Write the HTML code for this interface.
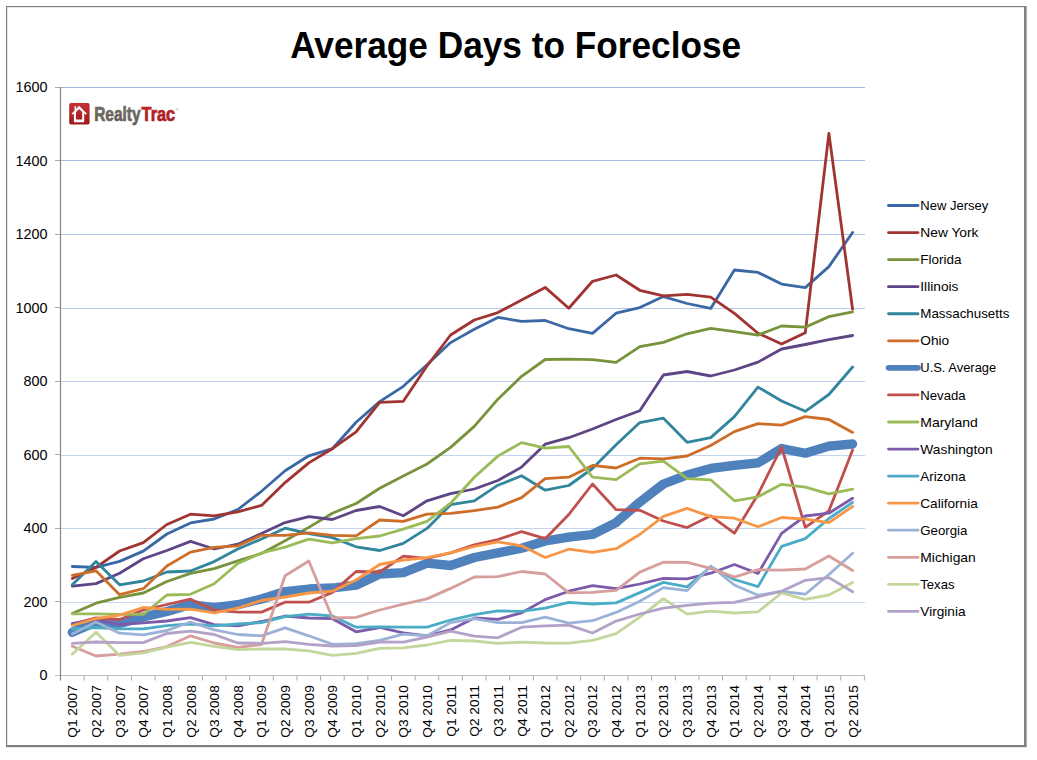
<!DOCTYPE html>
<html lang="en"><head><meta charset="utf-8"><title>Average Days to Foreclose</title>
<style>
html,body{margin:0;padding:0;background:#fff;width:1037px;height:760px;overflow:hidden}
svg{display:block}
text{font-family:"Liberation Sans",Arial,sans-serif}
</style></head><body>
<svg width="1037" height="760" viewBox="0 0 1037 760">
<rect x="0" y="0" width="1037" height="760" fill="#fff"/>
<g fill="#808080"><rect x="6" y="6" width="1020" height="1.2"/><rect x="6" y="6" width="1.2" height="741"/><rect x="1024" y="6" width="2.6" height="741"/><rect x="6" y="745" width="1020.6" height="2.2"/></g>
<text x="290.2" y="57.6" font-size="37.7" font-weight="bold" fill="#000" textLength="451" lengthAdjust="spacingAndGlyphs">Average Days to Foreclose</text>
<g><rect x="60.5" y="87" width="804.5" height="1" fill="#A0B8E0"/><rect x="60.5" y="160" width="804.5" height="1" fill="#A6BDE3"/><rect x="60.5" y="234" width="804.5" height="1" fill="#B0C5E8"/><rect x="60.5" y="308" width="804.5" height="1" fill="#B8CAEA"/><rect x="60.5" y="381" width="804.5" height="1" fill="#BFCFEC"/><rect x="60.5" y="455" width="804.5" height="1" fill="#C4D3EE"/><rect x="60.5" y="528" width="804.5" height="1" fill="#C4D3EE"/><rect x="60.5" y="602" width="804.5" height="1" fill="#C8D6EF"/></g>
<g stroke="#A9A9A9" stroke-width="1"><line x1="55" y1="675.50" x2="60.5" y2="675.50"/><line x1="55" y1="601.50" x2="60.5" y2="601.50"/><line x1="55" y1="528.50" x2="60.5" y2="528.50"/><line x1="55" y1="454.50" x2="60.5" y2="454.50"/><line x1="55" y1="381.50" x2="60.5" y2="381.50"/><line x1="55" y1="307.50" x2="60.5" y2="307.50"/><line x1="55" y1="234.50" x2="60.5" y2="234.50"/><line x1="55" y1="160.50" x2="60.5" y2="160.50"/><line x1="55" y1="87.50" x2="60.5" y2="87.50"/><line x1="60.50" y1="675.5" x2="60.50" y2="680.5"/><line x1="84.14" y1="675.5" x2="84.14" y2="680.5"/><line x1="107.79" y1="675.5" x2="107.79" y2="680.5"/><line x1="131.43" y1="675.5" x2="131.43" y2="680.5"/><line x1="155.08" y1="675.5" x2="155.08" y2="680.5"/><line x1="178.72" y1="675.5" x2="178.72" y2="680.5"/><line x1="202.36" y1="675.5" x2="202.36" y2="680.5"/><line x1="226.01" y1="675.5" x2="226.01" y2="680.5"/><line x1="249.65" y1="675.5" x2="249.65" y2="680.5"/><line x1="273.30" y1="675.5" x2="273.30" y2="680.5"/><line x1="296.94" y1="675.5" x2="296.94" y2="680.5"/><line x1="320.59" y1="675.5" x2="320.59" y2="680.5"/><line x1="344.23" y1="675.5" x2="344.23" y2="680.5"/><line x1="367.87" y1="675.5" x2="367.87" y2="680.5"/><line x1="391.52" y1="675.5" x2="391.52" y2="680.5"/><line x1="415.16" y1="675.5" x2="415.16" y2="680.5"/><line x1="438.81" y1="675.5" x2="438.81" y2="680.5"/><line x1="462.45" y1="675.5" x2="462.45" y2="680.5"/><line x1="486.09" y1="675.5" x2="486.09" y2="680.5"/><line x1="509.74" y1="675.5" x2="509.74" y2="680.5"/><line x1="533.38" y1="675.5" x2="533.38" y2="680.5"/><line x1="557.03" y1="675.5" x2="557.03" y2="680.5"/><line x1="580.67" y1="675.5" x2="580.67" y2="680.5"/><line x1="604.31" y1="675.5" x2="604.31" y2="680.5"/><line x1="627.96" y1="675.5" x2="627.96" y2="680.5"/><line x1="651.60" y1="675.5" x2="651.60" y2="680.5"/><line x1="675.25" y1="675.5" x2="675.25" y2="680.5"/><line x1="698.89" y1="675.5" x2="698.89" y2="680.5"/><line x1="722.54" y1="675.5" x2="722.54" y2="680.5"/><line x1="746.18" y1="675.5" x2="746.18" y2="680.5"/><line x1="769.82" y1="675.5" x2="769.82" y2="680.5"/><line x1="793.47" y1="675.5" x2="793.47" y2="680.5"/><line x1="817.11" y1="675.5" x2="817.11" y2="680.5"/><line x1="840.76" y1="675.5" x2="840.76" y2="680.5"/><line x1="864.40" y1="675.5" x2="864.40" y2="680.5"/></g>
<rect x="55" y="675" width="809.9" height="1" fill="#BEBEBE"/><line x1="60.5" y1="87.3" x2="60.5" y2="680.5" stroke="#868686" stroke-width="1.2"/>
<g font-size="14.4" fill="#000" text-anchor="end"><text x="47.4" y="680.40">0</text><text x="47.4" y="606.88">200</text><text x="47.4" y="533.35">400</text><text x="47.4" y="459.82">600</text><text x="47.4" y="386.30">800</text><text x="47.4" y="312.77">1000</text><text x="47.4" y="239.25">1200</text><text x="47.4" y="165.72">1400</text><text x="47.4" y="92.20">1600</text></g>
<g font-size="13.7" fill="#000" text-anchor="end"><text transform="translate(77.32,685.2) rotate(-90)">Q1 2007</text><text transform="translate(100.97,685.2) rotate(-90)">Q2 2007</text><text transform="translate(124.61,685.2) rotate(-90)">Q3 2007</text><text transform="translate(148.25,685.2) rotate(-90)">Q4 2007</text><text transform="translate(171.90,685.2) rotate(-90)">Q1 2008</text><text transform="translate(195.54,685.2) rotate(-90)">Q2 2008</text><text transform="translate(219.19,685.2) rotate(-90)">Q3 2008</text><text transform="translate(242.83,685.2) rotate(-90)">Q4 2008</text><text transform="translate(266.48,685.2) rotate(-90)">Q1 2009</text><text transform="translate(290.12,685.2) rotate(-90)">Q2 2009</text><text transform="translate(313.76,685.2) rotate(-90)">Q3 2009</text><text transform="translate(337.41,685.2) rotate(-90)">Q4 2009</text><text transform="translate(361.05,685.2) rotate(-90)">Q1 2010</text><text transform="translate(384.70,685.2) rotate(-90)">Q2 2010</text><text transform="translate(408.34,685.2) rotate(-90)">Q3 2010</text><text transform="translate(431.98,685.2) rotate(-90)">Q4 2010</text><text transform="translate(455.63,685.2) rotate(-90)">Q1 2011</text><text transform="translate(479.27,685.2) rotate(-90)">Q2 2011</text><text transform="translate(502.92,685.2) rotate(-90)">Q3 2011</text><text transform="translate(526.56,685.2) rotate(-90)">Q4 2011</text><text transform="translate(550.20,685.2) rotate(-90)">Q1 2012</text><text transform="translate(573.85,685.2) rotate(-90)">Q2 2012</text><text transform="translate(597.49,685.2) rotate(-90)">Q3 2012</text><text transform="translate(621.14,685.2) rotate(-90)">Q4 2012</text><text transform="translate(644.78,685.2) rotate(-90)">Q1 2013</text><text transform="translate(668.42,685.2) rotate(-90)">Q2 2013</text><text transform="translate(692.07,685.2) rotate(-90)">Q3 2013</text><text transform="translate(715.71,685.2) rotate(-90)">Q4 2013</text><text transform="translate(739.36,685.2) rotate(-90)">Q1 2014</text><text transform="translate(763.00,685.2) rotate(-90)">Q2 2014</text><text transform="translate(786.65,685.2) rotate(-90)">Q3 2014</text><text transform="translate(810.29,685.2) rotate(-90)">Q4 2014</text><text transform="translate(833.93,685.2) rotate(-90)">Q1 2015</text><text transform="translate(857.58,685.2) rotate(-90)">Q2 2015</text></g>
<g fill="none" stroke-linejoin="round" stroke-linecap="round">
<polyline stroke="#3A68A5" stroke-width="2.8" points="72.3,566.5 96.0,567.4 119.6,561.4 143.3,551.1 166.9,534.0 190.5,522.9 214.2,519.0 237.8,509.5 261.5,491.3 285.1,470.8 308.8,455.8 332.4,448.7 356.1,422.3 379.7,401.6 403.3,386.3 427.0,364.7 450.6,342.6 474.3,329.2 497.9,317.4 521.6,321.3 545.2,320.5 568.8,328.7 592.5,333.4 616.1,313.2 639.8,307.6 663.4,296.6 687.1,303.5 710.7,308.4 734.4,270.0 758.0,272.4 781.6,284.1 805.3,287.6 828.9,266.6 852.6,232.5"/>
<polyline stroke="#A03431" stroke-width="2.8" points="72.3,578.5 96.0,567.4 119.6,551.0 143.3,542.6 166.9,524.5 190.5,514.2 214.2,515.8 237.8,511.8 261.5,505.4 285.1,482.6 308.8,462.9 332.4,448.7 356.1,431.8 379.7,402.4 403.3,401.3 427.0,366.0 450.6,335.0 474.3,320.0 497.9,312.6 521.6,300.0 545.2,287.4 568.8,308.2 592.5,281.3 616.1,275.0 639.8,290.3 663.4,295.8 687.1,294.4 710.7,297.2 734.4,313.4 758.0,333.2 781.6,344.1 805.3,332.8 828.9,133.4 852.6,309.2"/>
<polyline stroke="#77933C" stroke-width="2.8" points="72.3,613.5 96.0,603.2 119.6,597.3 143.3,593.0 166.9,581.5 190.5,573.4 214.2,568.7 237.8,560.8 261.5,553.5 285.1,540.8 308.8,527.4 332.4,513.2 356.1,503.5 379.7,488.3 403.3,476.0 427.0,464.0 450.6,447.4 474.3,426.4 497.9,399.2 521.6,376.3 545.2,359.5 568.8,359.2 592.5,359.7 616.1,362.4 639.8,346.6 663.4,342.4 687.1,333.8 710.7,328.4 734.4,331.6 758.0,335.1 781.6,326.0 805.3,327.2 828.9,316.6 852.6,311.9"/>
<polyline stroke="#5E4585" stroke-width="2.8" points="72.3,586.2 96.0,583.6 119.6,573.3 143.3,558.8 166.9,550.5 190.5,541.4 214.2,549.0 237.8,544.2 261.5,533.5 285.1,522.6 308.8,516.6 332.4,519.5 356.1,510.5 379.7,506.5 403.3,515.8 427.0,500.8 450.6,493.7 474.3,489.0 497.9,480.5 521.6,467.1 545.2,444.2 568.8,437.7 592.5,429.0 616.1,419.5 639.8,410.8 663.4,375.0 687.1,371.5 710.7,376.0 734.4,370.0 758.0,362.1 781.6,349.0 805.3,344.5 828.9,339.7 852.6,335.5"/>
<polyline stroke="#31859C" stroke-width="2.8" points="72.3,584.8 96.0,561.4 119.6,584.8 143.3,581.0 166.9,572.0 190.5,571.0 214.2,561.6 237.8,549.0 261.5,539.0 285.1,528.2 308.8,533.7 332.4,537.6 356.1,546.8 379.7,550.5 403.3,543.4 427.0,528.4 450.6,504.7 474.3,500.8 497.9,485.2 521.6,475.8 545.2,490.2 568.8,485.5 592.5,468.5 616.1,444.7 639.8,422.6 663.4,418.2 687.1,442.3 710.7,437.6 734.4,416.6 758.0,387.1 781.6,401.0 805.3,411.3 828.9,394.5 852.6,367.0"/>
<polyline stroke="#CD6D28" stroke-width="2.8" points="72.3,575.4 96.0,570.8 119.6,594.7 143.3,588.7 166.9,566.0 190.5,552.1 214.2,547.4 237.8,545.8 261.5,535.3 285.1,535.3 308.8,532.9 332.4,535.3 356.1,535.8 379.7,520.0 403.3,521.3 427.0,514.2 450.6,513.4 474.3,510.7 497.9,507.1 521.6,497.6 545.2,478.6 568.8,477.2 592.5,465.4 616.1,468.0 639.8,458.2 663.4,458.8 687.1,456.0 710.7,445.5 734.4,431.6 758.0,423.7 781.6,425.1 805.3,416.6 828.9,419.5 852.6,432.4"/>
<polyline stroke="#4F81BD" stroke-width="9.3" points="72.3,632.3 96.0,622.0 119.6,623.5 143.3,617.0 166.9,611.5 190.5,604.5 214.2,607.5 237.8,604.7 261.5,599.0 285.1,591.5 308.8,589.0 332.4,588.0 356.1,585.2 379.7,574.0 403.3,572.6 427.0,563.2 450.6,565.5 474.3,557.5 497.9,552.9 521.6,548.2 545.2,541.0 568.8,537.2 592.5,534.5 616.1,522.6 639.8,502.1 663.4,484.0 687.1,475.0 710.7,468.4 734.4,465.3 758.0,462.9 781.6,448.5 805.3,453.2 828.9,446.1 852.6,444.0"/>
<polyline stroke="#C0504D" stroke-width="2.8" points="72.3,624.0 96.0,617.8 119.6,619.5 143.3,610.0 166.9,604.5 190.5,599.2 214.2,610.1 237.8,612.1 261.5,612.1 285.1,602.2 308.8,602.2 332.4,592.4 356.1,571.5 379.7,572.0 403.3,556.1 427.0,558.4 450.6,552.9 474.3,544.8 497.9,539.5 521.6,531.6 545.2,538.7 568.8,514.5 592.5,484.0 616.1,509.7 639.8,510.3 663.4,521.0 687.1,527.6 710.7,515.8 734.4,533.2 758.0,494.5 781.6,447.0 805.3,527.4 828.9,510.8 852.6,450.0"/>
<polyline stroke="#9BBB59" stroke-width="2.8" points="72.3,613.8 96.0,613.8 119.6,614.4 143.3,614.4 166.9,595.0 190.5,594.3 214.2,583.8 237.8,563.5 261.5,553.0 285.1,547.1 308.8,539.2 332.4,542.8 356.1,538.7 379.7,536.0 403.3,529.2 427.0,521.3 450.6,503.2 474.3,477.3 497.9,456.1 521.6,442.6 545.2,448.2 568.8,446.5 592.5,477.2 616.1,479.7 639.8,463.8 663.4,461.2 687.1,478.6 710.7,479.8 734.4,500.8 758.0,496.8 781.6,484.3 805.3,487.1 828.9,493.9 852.6,489.2"/>
<polyline stroke="#7C5BAA" stroke-width="2.8" points="72.3,623.4 96.0,620.0 119.6,624.6 143.3,622.9 166.9,621.0 190.5,617.6 214.2,624.6 237.8,625.9 261.5,621.5 285.1,616.0 308.8,618.0 332.4,618.7 356.1,631.8 379.7,627.5 403.3,632.9 427.0,635.8 450.6,629.9 474.3,618.0 497.9,619.3 521.6,612.8 545.2,599.6 568.8,591.2 592.5,585.7 616.1,588.7 639.8,584.0 663.4,578.4 687.1,578.9 710.7,573.2 734.4,564.5 758.0,573.5 781.6,533.4 805.3,516.0 828.9,513.2 852.6,498.2"/>
<polyline stroke="#4BACC6" stroke-width="2.8" points="72.3,629.0 96.0,627.5 119.6,628.9 143.3,628.9 166.9,625.7 190.5,624.0 214.2,625.9 237.8,624.0 261.5,622.6 285.1,616.7 308.8,614.1 332.4,616.0 356.1,627.2 379.7,626.8 403.3,627.2 427.0,627.2 450.6,620.0 474.3,614.7 497.9,610.8 521.6,611.4 545.2,608.2 568.8,602.3 592.5,604.0 616.1,602.9 639.8,592.6 663.4,582.4 687.1,586.8 710.7,566.8 734.4,579.5 758.0,586.6 781.6,546.4 805.3,538.6 828.9,518.5 852.6,502.4"/>
<polyline stroke="#F79646" stroke-width="2.8" points="72.3,625.5 96.0,618.6 119.6,615.2 143.3,607.5 166.9,609.3 190.5,609.2 214.2,612.8 237.8,608.2 261.5,600.5 285.1,597.0 308.8,593.0 332.4,591.2 356.1,580.0 379.7,564.5 403.3,560.0 427.0,557.6 450.6,552.9 474.3,546.5 497.9,541.8 521.6,545.8 545.2,557.5 568.8,549.2 592.5,552.3 616.1,548.7 639.8,534.5 663.4,516.3 687.1,508.4 710.7,516.6 734.4,518.2 758.0,526.8 781.6,517.5 805.3,519.2 828.9,522.6 852.6,506.5"/>
<polyline stroke="#9BB2D7" stroke-width="2.8" points="72.3,634.0 96.0,622.0 119.6,633.2 143.3,634.9 166.9,630.5 190.5,622.0 214.2,629.9 237.8,634.5 261.5,635.8 285.1,627.9 308.8,635.8 332.4,644.3 356.1,643.7 379.7,640.3 403.3,634.2 427.0,635.8 450.6,622.6 474.3,618.7 497.9,622.6 521.6,622.6 545.2,617.1 568.8,623.1 592.5,620.7 616.1,612.4 639.8,601.3 663.4,587.6 687.1,590.6 710.7,566.0 734.4,585.0 758.0,595.3 781.6,591.5 805.3,594.2 828.9,574.5 852.6,553.2"/>
<polyline stroke="#D69E9C" stroke-width="2.8" points="72.3,646.3 96.0,656.0 119.6,654.2 143.3,651.5 166.9,646.5 190.5,635.8 214.2,643.0 237.8,647.5 261.5,644.5 285.1,575.7 308.8,561.0 332.4,618.0 356.1,617.4 379.7,610.0 403.3,604.2 427.0,598.9 450.6,588.4 474.3,577.0 497.9,576.6 521.6,571.5 545.2,574.0 568.8,592.8 592.5,592.4 616.1,590.3 639.8,572.1 663.4,562.2 687.1,562.3 710.7,568.4 734.4,577.1 758.0,569.7 781.6,570.2 805.3,569.0 828.9,556.0 852.6,570.5"/>
<polyline stroke="#C3D69B" stroke-width="2.8" points="72.3,654.2 96.0,632.3 119.6,655.4 143.3,652.8 166.9,647.2 190.5,642.4 214.2,646.3 237.8,649.6 261.5,649.0 285.1,649.0 308.8,650.9 332.4,655.3 356.1,653.4 379.7,648.3 403.3,647.9 427.0,645.0 450.6,640.4 474.3,641.0 497.9,643.3 521.6,642.1 545.2,643.0 568.8,643.1 592.5,640.3 616.1,633.7 639.8,617.1 663.4,598.6 687.1,614.2 710.7,611.1 734.4,613.0 758.0,611.8 781.6,593.0 805.3,599.3 828.9,595.0 852.6,582.4"/>
<polyline stroke="#B3A2C7" stroke-width="2.8" points="72.3,643.4 96.0,642.0 119.6,642.6 143.3,642.6 166.9,633.5 190.5,631.2 214.2,634.5 237.8,643.0 261.5,643.3 285.1,641.7 308.8,644.3 332.4,646.0 356.1,645.7 379.7,642.0 403.3,642.1 427.0,637.1 450.6,631.2 474.3,636.1 497.9,637.8 521.6,627.2 545.2,625.9 568.8,625.2 592.5,633.0 616.1,621.1 639.8,614.0 663.4,608.1 687.1,605.4 710.7,603.2 734.4,602.4 758.0,596.8 781.6,591.2 805.3,580.3 828.9,577.6 852.6,591.8"/>
</g>
<g font-size="13.4" fill="#000"><line x1="888.5" y1="205.50" x2="918" y2="205.50" stroke="#3A68A5" stroke-width="2.8" stroke-linecap="round"/><text x="920.3" y="210.10" textLength="68.0" lengthAdjust="spacingAndGlyphs">New Jersey</text><line x1="888.5" y1="232.56" x2="918" y2="232.56" stroke="#A03431" stroke-width="2.8" stroke-linecap="round"/><text x="920.3" y="237.16" textLength="58.2" lengthAdjust="spacingAndGlyphs">New York</text><line x1="888.5" y1="259.62" x2="918" y2="259.62" stroke="#77933C" stroke-width="2.8" stroke-linecap="round"/><text x="920.3" y="264.22" textLength="41.1" lengthAdjust="spacingAndGlyphs">Florida</text><line x1="888.5" y1="286.68" x2="918" y2="286.68" stroke="#5E4585" stroke-width="2.8" stroke-linecap="round"/><text x="920.3" y="291.28" textLength="38.2" lengthAdjust="spacingAndGlyphs">Illinois</text><line x1="888.5" y1="313.74" x2="918" y2="313.74" stroke="#31859C" stroke-width="2.8" stroke-linecap="round"/><text x="920.3" y="318.34" textLength="89.1" lengthAdjust="spacingAndGlyphs">Massachusetts</text><line x1="888.5" y1="340.80" x2="918" y2="340.80" stroke="#CD6D28" stroke-width="2.8" stroke-linecap="round"/><text x="920.3" y="345.40" textLength="28.9" lengthAdjust="spacingAndGlyphs">Ohio</text><line x1="888.5" y1="367.86" x2="918" y2="367.86" stroke="#4F81BD" stroke-width="5.6" stroke-linecap="round"/><text x="920.3" y="372.46" textLength="75.9" lengthAdjust="spacingAndGlyphs">U.S. Average</text><line x1="888.5" y1="394.92" x2="918" y2="394.92" stroke="#C0504D" stroke-width="2.8" stroke-linecap="round"/><text x="920.3" y="399.52" textLength="45.3" lengthAdjust="spacingAndGlyphs">Nevada</text><line x1="888.5" y1="421.98" x2="918" y2="421.98" stroke="#9BBB59" stroke-width="2.8" stroke-linecap="round"/><text x="920.3" y="426.58" textLength="57.5" lengthAdjust="spacingAndGlyphs">Maryland</text><line x1="888.5" y1="449.04" x2="918" y2="449.04" stroke="#7C5BAA" stroke-width="2.8" stroke-linecap="round"/><text x="920.3" y="453.64" textLength="72.4" lengthAdjust="spacingAndGlyphs">Washington</text><line x1="888.5" y1="476.10" x2="918" y2="476.10" stroke="#4BACC6" stroke-width="2.8" stroke-linecap="round"/><text x="920.3" y="480.70" textLength="45.3" lengthAdjust="spacingAndGlyphs">Arizona</text><line x1="888.5" y1="503.16" x2="918" y2="503.16" stroke="#F79646" stroke-width="2.8" stroke-linecap="round"/><text x="920.3" y="507.76" textLength="57.5" lengthAdjust="spacingAndGlyphs">California</text><line x1="888.5" y1="530.22" x2="918" y2="530.22" stroke="#9BB2D7" stroke-width="2.8" stroke-linecap="round"/><text x="920.3" y="534.82" textLength="47.0" lengthAdjust="spacingAndGlyphs">Georgia</text><line x1="888.5" y1="557.28" x2="918" y2="557.28" stroke="#D69E9C" stroke-width="2.8" stroke-linecap="round"/><text x="920.3" y="561.88" textLength="55.5" lengthAdjust="spacingAndGlyphs">Michigan</text><line x1="888.5" y1="584.34" x2="918" y2="584.34" stroke="#C3D69B" stroke-width="2.8" stroke-linecap="round"/><text x="920.3" y="588.94" textLength="34.2" lengthAdjust="spacingAndGlyphs">Texas</text><line x1="888.5" y1="611.40" x2="918" y2="611.40" stroke="#B3A2C7" stroke-width="2.8" stroke-linecap="round"/><text x="920.3" y="616.00" textLength="45.3" lengthAdjust="spacingAndGlyphs">Virginia</text></g>
<defs><linearGradient id="lg" x1="0" y1="0" x2="0" y2="1"><stop offset="0" stop-color="#C63234"/><stop offset="1" stop-color="#9B1A1E"/></linearGradient>
<linearGradient id="lg2" x1="0" y1="0" x2="0" y2="1"><stop offset="0" stop-color="#7A766C"/><stop offset="1" stop-color="#5E5A50"/></linearGradient>
<linearGradient id="lg3" x1="0" y1="0" x2="0" y2="1"><stop offset="0" stop-color="#C8282C"/><stop offset="1" stop-color="#9E1A1E"/></linearGradient></defs>
<rect x="69.2" y="103" width="20.4" height="21.5" rx="1.8" fill="url(#lg)"/>
<path fill="#fff" fill-rule="evenodd" d="M71.5 113.7 L74.5 110.6 L74.5 106.3 L76.1 106.3 L76.1 109 L79.1 105.7 L86.9 113.7 L85.8 114.8 L84.2 113.2 L84.2 122.3 L73.9 122.3 L73.9 113.3 L72.6 114.8 Z M76 119.5 L82.2 119.5 L82.2 111.9 L79.1 108.9 L76 111.9 Z"/>
<text x="94.2" y="120.9" font-size="20.2" font-weight="bold" fill="url(#lg2)" stroke="#6A655D" stroke-width="0.7" textLength="46.4" lengthAdjust="spacingAndGlyphs">Realty</text>
<text x="141.6" y="120.9" font-size="20.2" font-weight="bold" fill="url(#lg3)" stroke="#AE1A20" stroke-width="0.7" textLength="33.6" lengthAdjust="spacingAndGlyphs">Trac</text>
<text x="175.8" y="111.2" font-size="4.2" fill="#888">®</text>
</svg>
</body></html>
